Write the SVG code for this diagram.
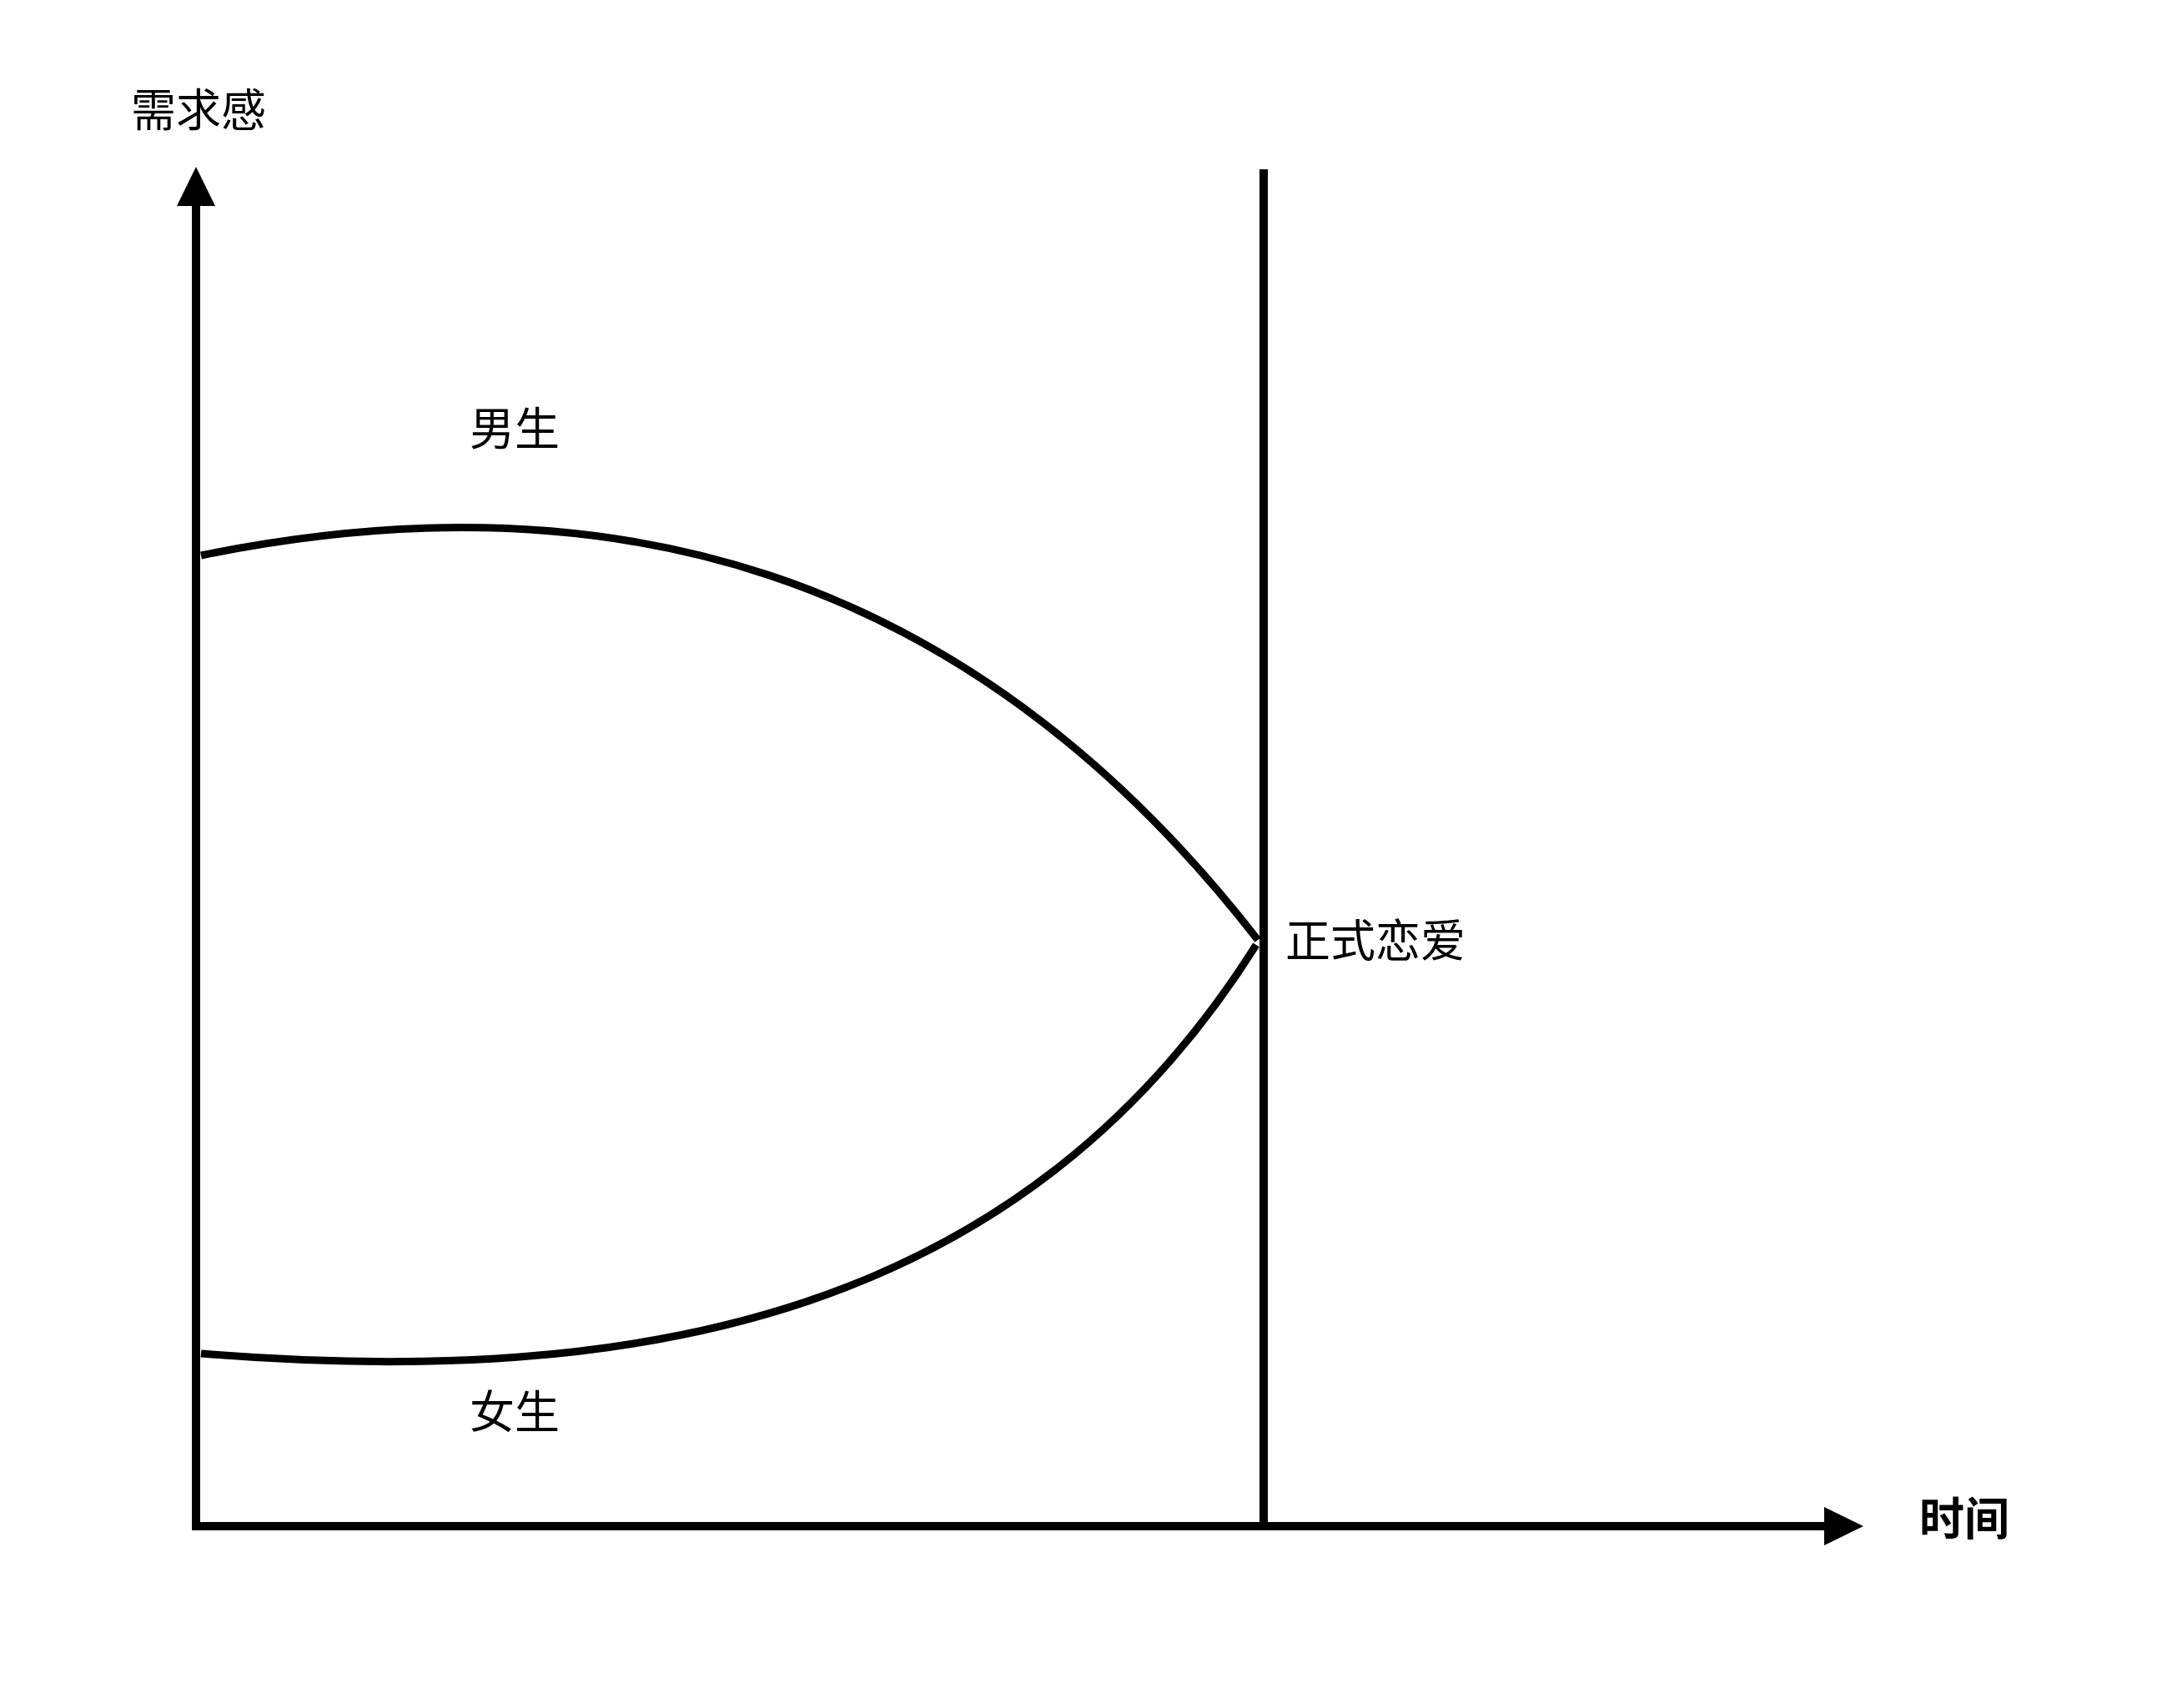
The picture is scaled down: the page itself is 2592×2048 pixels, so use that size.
<svg xmlns="http://www.w3.org/2000/svg" width="2592" height="2048" viewBox="0 0 2592 2048">
  <style>
    .lbl { font-family: "Noto Sans CJK SC", "Noto Sans", sans-serif; font-size: 54px; fill: #000; }
    .bold { font-weight: bold; }
    .axis { stroke: #000; stroke-width: 10; fill: none; }
    .curve { stroke: #000; stroke-width: 9; fill: none; }
  </style>
  <defs>
    <marker id="arrow" markerUnits="userSpaceOnUse" markerWidth="48" markerHeight="48" refX="0" refY="23" orient="auto" viewBox="0 0 48 46">
      <path d="M0,0 L47,23 L0,46 Z" fill="#000"/>
    </marker>
  </defs>
  <rect width="2592" height="2048" fill="#fff"/>
  <g id="connectors">
    <line id="y-axis" class="axis" x1="235" y1="1835" x2="235" y2="247" marker-end="url(#arrow)"/>
    <line id="x-axis" class="axis" x1="230" y1="1830" x2="2187" y2="1830" marker-end="url(#arrow)"/>
    <line id="divider" class="axis" x1="1515" y1="203" x2="1515" y2="1835"/>
    <path id="male-curve" class="curve" d="M241,666 C721,568 1156,674 1508,1127"/>
    <path id="female-curve" class="curve" d="M241,1623 C771,1666 1226,1577 1506,1133"/>
  </g>
  <g id="label-y"><text class="lbl" x="238" y="152" text-anchor="middle">需求感</text></g>
  <g id="label-x"><text class="lbl bold" x="2301" y="1841">时间</text></g>
  <g id="label-male"><text class="lbl" x="617" y="534" text-anchor="middle">男生</text></g>
  <g id="label-female"><text class="lbl" x="617" y="1713" text-anchor="middle">女生</text></g>
  <g id="label-love"><text class="lbl" x="1541" y="1148">正式恋爱</text></g>
</svg>
